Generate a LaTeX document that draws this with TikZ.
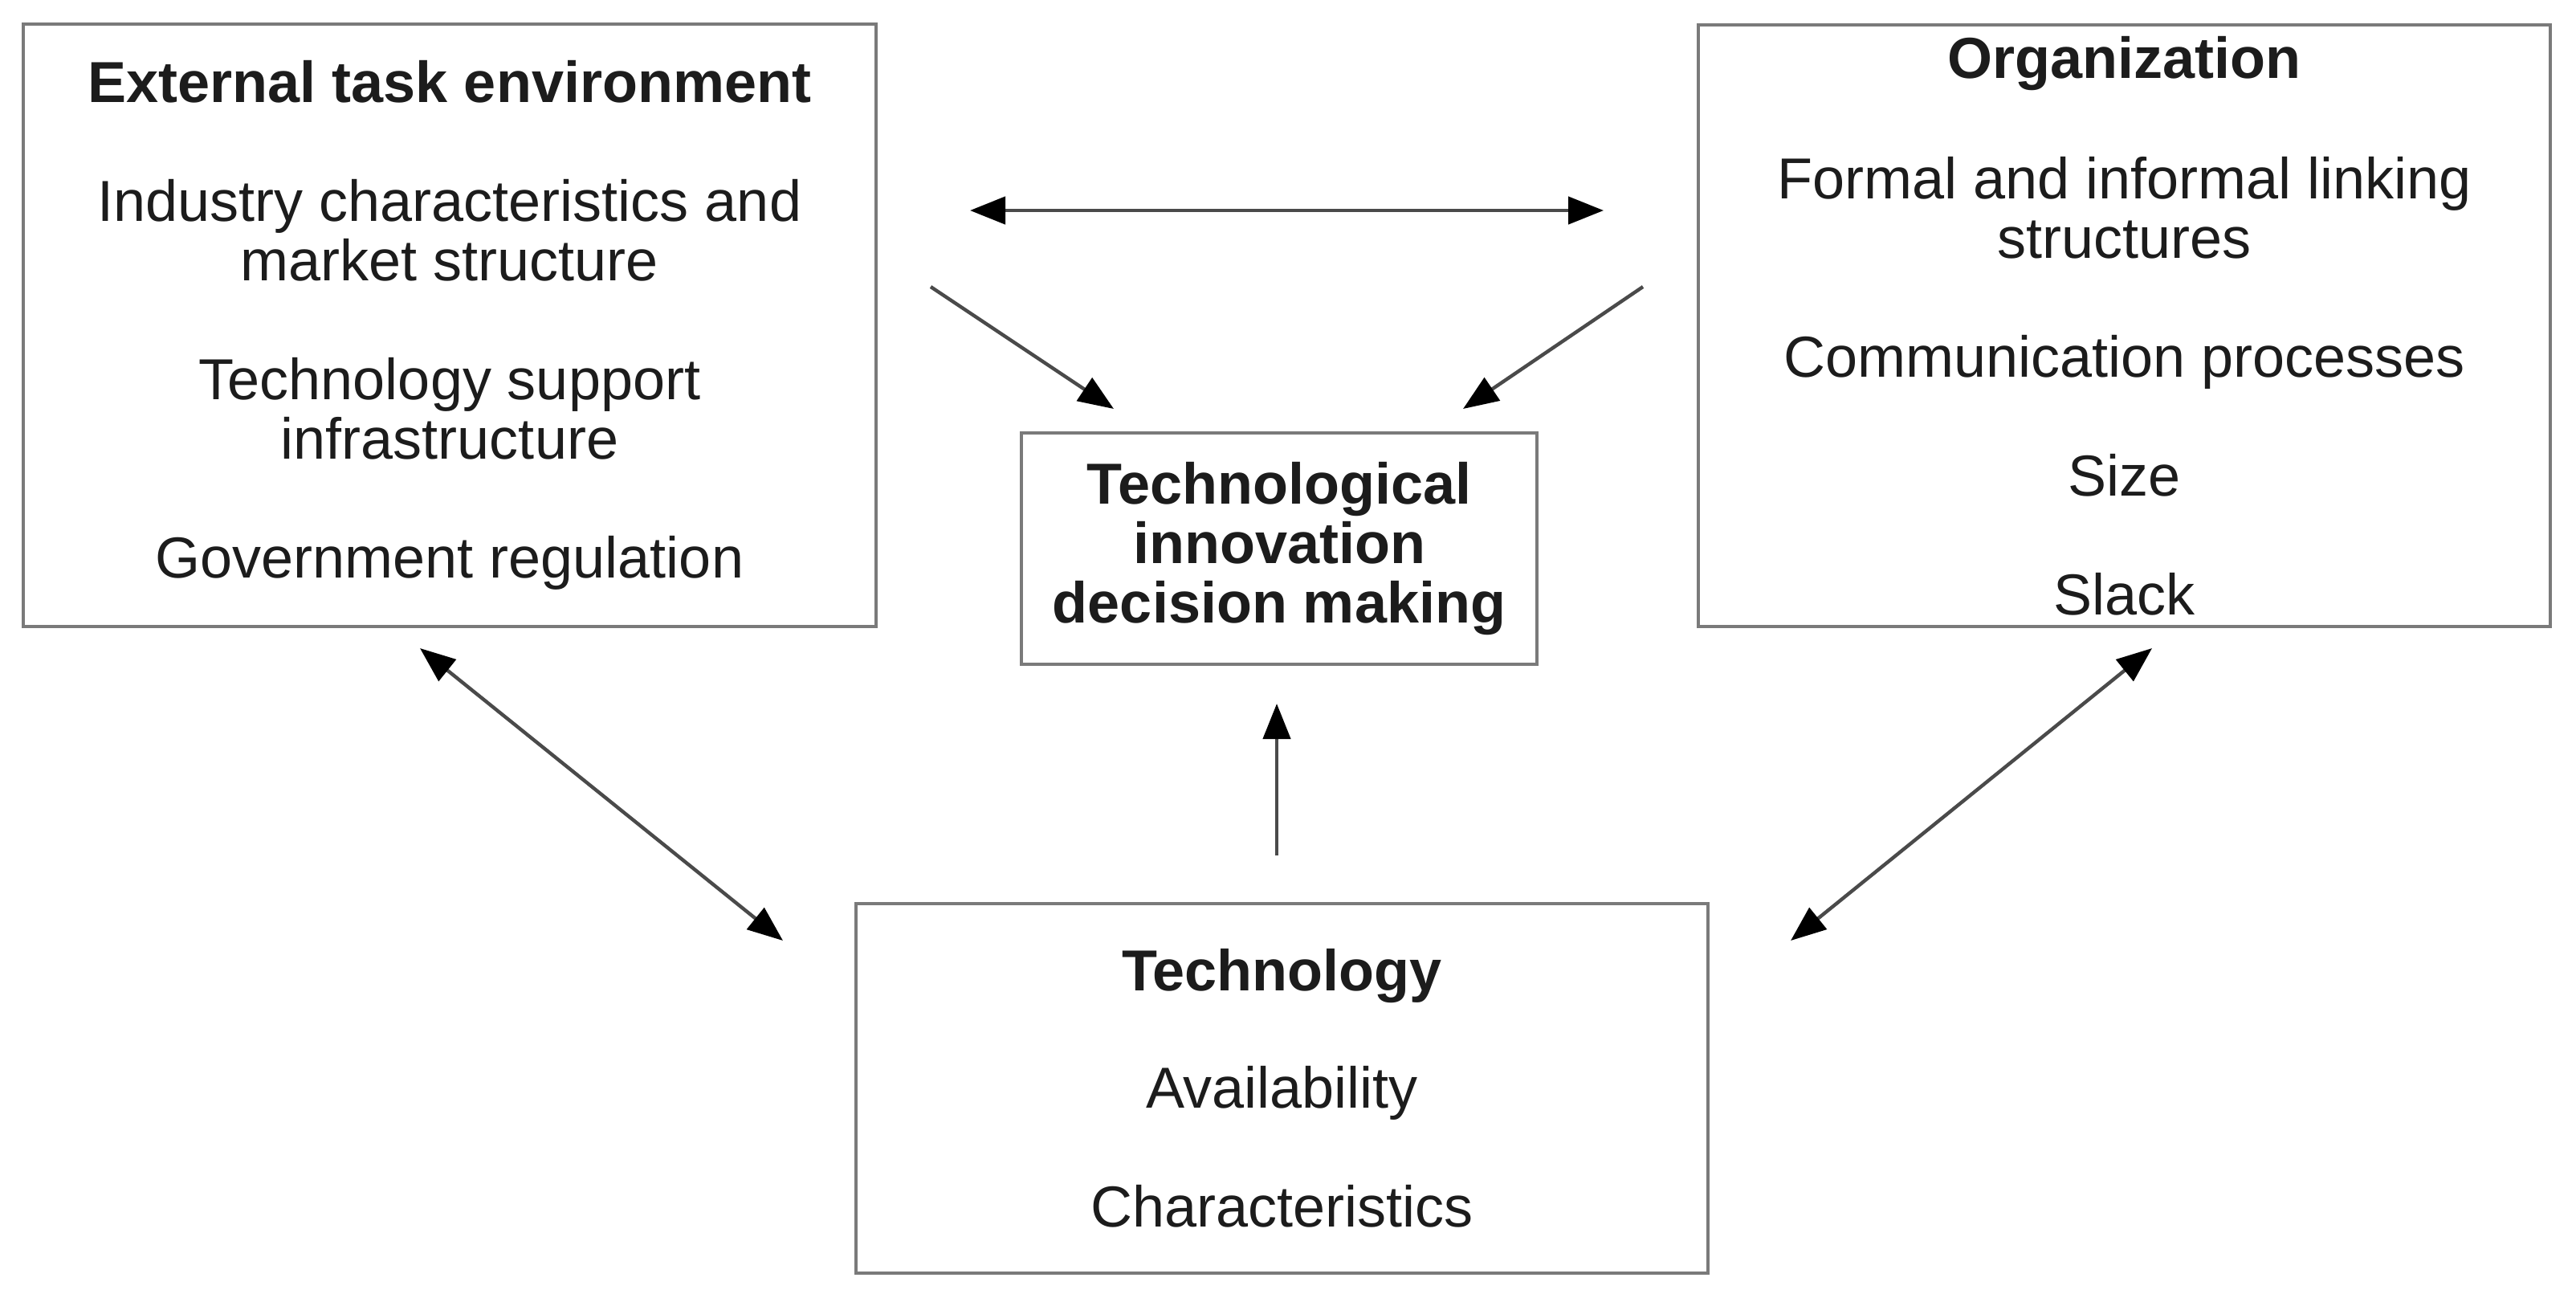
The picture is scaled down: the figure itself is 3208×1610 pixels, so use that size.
\documentclass[tikz,border=0pt]{standalone}
\usepackage{fontspec}
\setmainfont{Liberation Sans}
\usetikzlibrary{arrows.meta}
\definecolor{boxline}{HTML}{7A7A7A}
\definecolor{shaft}{HTML}{4A4A4A}
\definecolor{txt}{HTML}{1C1C1C}
\begin{document}
\begin{tikzpicture}[x=0.25pt,y=-0.25pt,
  box/.style={draw=boxline, line width=1.2pt, fill=white, inner sep=0pt, align=center,
    text=txt, font=\fontsize{18}{18.5}\selectfont},
  tip/.style={},
  conn/.style={draw=shaft, line width=1.1pt,
    -{Triangle[length=11pt,width=8.5pt,fill=black,color=black]}},
  dconn/.style={draw=shaft, line width=1.1pt,
    {Triangle[length=11pt,width=8.5pt,fill=black,color=black]}-{Triangle[length=11pt,width=8.5pt,fill=black,color=black]}}
]
\useasboundingbox[fill=white] (0,0) rectangle (3208,1610);

\node[box, minimum width=265.5pt, minimum height=187.5pt] (ext) at (560,405)
  {\textbf{External task environment}\\[18.5pt]
   Industry characteristics and\\ market structure\\[18.5pt]
   Technology support\\ infrastructure\\[18.5pt]
   Government regulation};

\node[box, minimum width=265.25pt, minimum height=187.25pt] (org) at (2645.5,405.5)
  {\textbf{Organization}\\[19pt]
   Formal and informal linking\\ structures\\[18.5pt]
   Communication processes\\[18.5pt]
   Size\\[18.5pt]
   Slack};

\node[box, minimum width=160.5pt, minimum height=72pt] (tid) at (1593,683)
  {\textbf{Technological}\\ \textbf{innovation}\\ \textbf{decision making}};

\node[box, minimum width=265.25pt, minimum height=115pt] (tech) at (1596.5,1355)
  {\textbf{Technology}\\[18pt]
   Availability\\[18.5pt]
   Characteristics};

\coordinate (tl) at (1208,262);
\coordinate (tr) at (1997,262);
\coordinate (dl) at (1159,357);
\coordinate (dlt) at (1387,509);
\coordinate (dr) at (2046,357);
\coordinate (drt) at (1822,509);
\coordinate (vb) at (1590,1065);
\coordinate (vt) at (1590,876);
\coordinate (lbu) at (523,807);
\coordinate (lbd) at (975,1171);
\coordinate (rbu) at (2680,807);
\coordinate (rbd) at (2230,1171);

\draw[dconn] (tl) -- (tr);
\draw[conn] (dl) -- (dlt);
\draw[conn] (dr) -- (drt);
\draw[conn] (vb) -- (vt);
\draw[dconn] (lbu) -- (lbd);
\draw[dconn] (rbu) -- (rbd);
\end{tikzpicture}
\end{document}
